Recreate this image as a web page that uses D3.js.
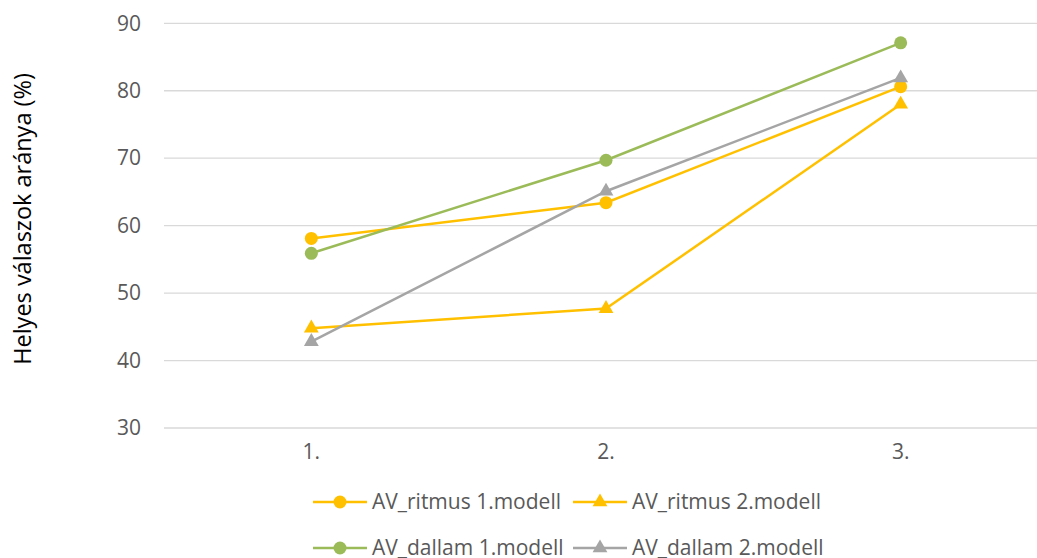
<!DOCTYPE html>
<html>
<head>
<meta charset="utf-8">
<script src="https://cdn.jsdelivr.net/npm/d3@7"></script>
<style>
  body { margin: 0; background: #fff; }
  svg { font-family: "Open Sans", sans-serif; }
</style>
</head>
<body>
<script>
const categories = ["1.", "2.", "3."];
const seriesNames = ["AV_ritmus 1.modell", "AV_ritmus 2.modell", "AV_dallam 1.modell", "AV_dallam 2.modell"];
const ritmus1 = [58.1, 63.4, 80.6];
const ritmus2 = [44.8, 47.7, 78.0];
const dallam1 = [55.9, 69.7, 87.1];
const dallam2 = [42.8, 65.1, 81.9];
const yTicks = [30, 40, 50, 60, 70, 80, 90];

const colors = ["#FFC000", "#FFC000", "#9BBB59", "#A5A5A5"];
const shapes = ["circle", "triangle", "circle", "triangle"];
const series = [ritmus1, ritmus2, dallam1, dallam2].map((values, i) => ({
  name: seriesNames[i],
  values,
  color: colors[i],
  shape: shapes[i],
}));

const width = 1037;
const height = 558;
const fontSize = "21px";

const svg = d3
  .select("body")
  .append("svg")
  .attr("width", width)
  .attr("height", height);

const x = d3.scaleBand().domain(categories).range([164, 1048]);
const y = d3.scaleLinear().domain([30, 90]).range([428, 23.3]);

// gridlines
svg
  .append("g")
  .selectAll("line")
  .data(yTicks)
  .join("line")
  .attr("x1", 164)
  .attr("x2", width)
  .attr("y1", (d) => y(d))
  .attr("y2", (d) => y(d))
  .attr("stroke", "#d9d9d9")
  .attr("stroke-width", 1.3);

// y axis labels
const yAxis = svg
  .append("g")
  .attr("transform", "translate(150,0)")
  .call(d3.axisLeft(y).tickValues(yTicks).tickSize(0).tickPadding(9));
yAxis.select(".domain").remove();
yAxis.selectAll("text").attr("fill", "#595959").style("font-size", fontSize).style("font-family", "'Open Sans', sans-serif");

// x axis labels
const xAxis = svg
  .append("g")
  .attr("transform", "translate(0,428)")
  .call(d3.axisBottom(x).tickSize(0).tickPadding(16));
xAxis.select(".domain").remove();
xAxis.selectAll("text").attr("fill", "#595959").style("font-size", fontSize).style("font-family", "'Open Sans', sans-serif");

// axis title
svg
  .append("text")
  .attr("transform", "translate(31,219) rotate(-90)")
  .attr("text-anchor", "middle")
  .attr("fill", "#000")
  .style("font-size", "23.5px")
  .text("Helyes válaszok aránya (%)");

const line = d3
  .line()
  .x((d, i) => x(categories[i]) + x.bandwidth() / 2)
  .y((d) => y(d));

const triangle = d3.symbol().type(d3.symbolTriangle).size(95);

function drawMarker(g, shape, color, cx, cy) {
  if (shape === "circle") {
    g.append("circle").attr("cx", cx).attr("cy", cy).attr("r", 6.5).attr("fill", color);
  } else {
    g.append("path")
      .attr("d", triangle())
      .attr("transform", `translate(${cx},${cy})`)
      .attr("fill", color);
  }
}

const plot = svg.append("g");
series.forEach((s) => {
  plot
    .append("path")
    .datum(s.values)
    .attr("fill", "none")
    .attr("stroke", s.color)
    .attr("stroke-width", 2.5)
    .attr("d", line);
});
series.forEach((s) => {
  s.values.forEach((v, i) => {
    drawMarker(plot, s.shape, s.color, x(categories[i]) + x.bandwidth() / 2, y(v));
  });
});

// legend
const legendPos = [
  [313, 502],
  [573, 502],
  [313, 548],
  [573, 548],
];
const legend = svg.append("g");
series.forEach((s, i) => {
  const [lx, ly] = legendPos[i];
  const g = legend.append("g");
  g.append("line")
    .attr("x1", lx)
    .attr("x2", lx + 54)
    .attr("y1", ly)
    .attr("y2", ly)
    .attr("stroke", s.color)
    .attr("stroke-width", 2.5);
  drawMarker(g, s.shape, s.color, lx + 27, ly);
  g.append("text")
    .attr("x", lx + 59)
    .attr("y", ly)
    .attr("dy", "0.35em")
    .attr("fill", "#595959")
    .style("font-size", fontSize)
    .text(s.name);
});
</script>
</body>
</html>
